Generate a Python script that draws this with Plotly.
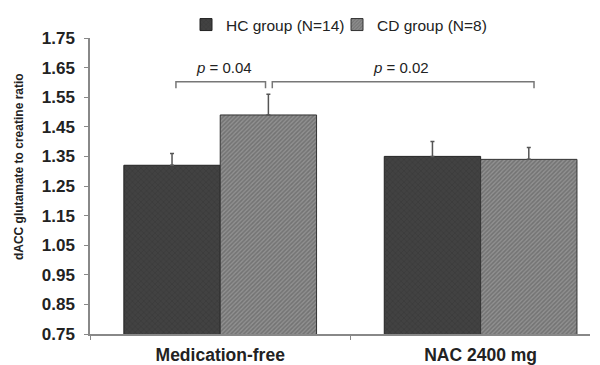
import plotly.graph_objects as go

categories = ["Medication-free", "NAC 2400 mg"]
hc_values = [1.32, 1.35]
hc_errors = [0.04, 0.05]
cd_values = [1.49, 1.34]
cd_errors = [0.07, 0.04]
y_ticks = [0.75, 0.85, 0.95, 1.05, 1.15, 1.25, 1.35, 1.45, 1.55, 1.65, 1.75]
hc_name = "HC group (N=14)"
cd_name = "CD group (N=8)"
y_title = "dACC glutamate to creatine ratio"
# significance brackets: (x0, x1, y_top, y_leg, label_x, label)
brackets = [(-0.170, 0.174, 1.602, 1.580, 0.013, "<i>p</i> = 0.04"),
            (0.200, 1.205, 1.602, 1.580, 0.693, "<i>p</i> = 0.02")]
label_y = 1.649

FONT = "Arial, 'Liberation Sans', sans-serif"

fig = go.Figure()
fig.add_trace(go.Bar(
    x=categories, y=hc_values, name=hc_name,
    marker=dict(color="#3d3d3d", line=dict(color="#222222", width=1),
                pattern=dict(shape="x", fgcolor="#2c2c2c", bgcolor="#424242",
                             size=4, solidity=0.25)),
    error_y=dict(type="data", array=hc_errors, arrayminus=[0, 0], symmetric=False,
                 color="#555555", thickness=1.5, width=2),
))
fig.add_trace(go.Bar(
    x=categories, y=cd_values, name=cd_name,
    marker=dict(color="#777777", line=dict(color="#333333", width=1),
                pattern=dict(shape="/", fgcolor="#555555", bgcolor="#909090",
                             size=3, solidity=0.5)),
    error_y=dict(type="data", array=cd_errors, arrayminus=[0, 0], symmetric=False,
                 color="#555555", thickness=1.5, width=2),
))

for x0, x1, yt, yl, lx, lab in brackets:
    fig.add_shape(type="path",
                  path=f"M {x0} {yl} L {x0} {yt} L {x1} {yt} L {x1} {yl}",
                  xref="x", yref="y", line=dict(color="#777777", width=1.5))
    fig.add_annotation(x=lx, y=label_y, xref="x", yref="y", text=lab,
                       showarrow=False, font=dict(family=FONT, size=15, color="#222222"))

fig.add_annotation(x=0, y=0.564, xref="paper", yref="paper", text=f"<b>{y_title}</b>",
                   textangle=-90, showarrow=False, xanchor="center", yanchor="middle",
                   xshift=-71, font=dict(family=FONT, size=12, color="#222222"))

fig.update_layout(
    width=600, height=365,
    margin=dict(l=90, r=10, t=38, b=31, autoexpand=False),
    paper_bgcolor="white", plot_bgcolor="white",
    barmode="group", bargap=0.26, bargroupgap=0,
    font=dict(family=FONT, color="#222222"),
    showlegend=True,
    legend=dict(orientation="h", x=0.192, xanchor="left", y=1.044, yanchor="middle",
                font=dict(family=FONT, size=15.5, color="#222222"),
                itemwidth=30, entrywidth=106, entrywidthmode="pixels",
                bgcolor="rgba(0,0,0,0)", traceorder="normal"),
    xaxis=dict(type="category", range=[-0.5, 1.42], showline=True, linecolor="#888888",
               linewidth=1.5, ticks="outside", tickson="boundaries", ticklen=4,
               tickcolor="#888888", showgrid=False, automargin=False, ticklabelstandoff=4,
               tickfont=dict(family=FONT, size=17.5, color="#222222"),
               tickvals=categories, ticktext=[f"<b>{c}</b>" for c in categories]),
    yaxis=dict(range=[0.75, 1.75], showline=True, linecolor="#888888", linewidth=1.5,
               ticks="outside", ticklen=4, tickcolor="#888888", showgrid=False,
               zeroline=False, tickvals=y_ticks, automargin=False, ticklabelstandoff=6,
               ticktext=[f"<b>{v:.2f}</b>" for v in y_ticks],
               tickfont=dict(family=FONT, size=17, color="#222222")),
)

fig.write_html("out.html", config={"displayModeBar": False},
               post_script="document.body.style.margin='0px';document.body.style.overflow='hidden';")
